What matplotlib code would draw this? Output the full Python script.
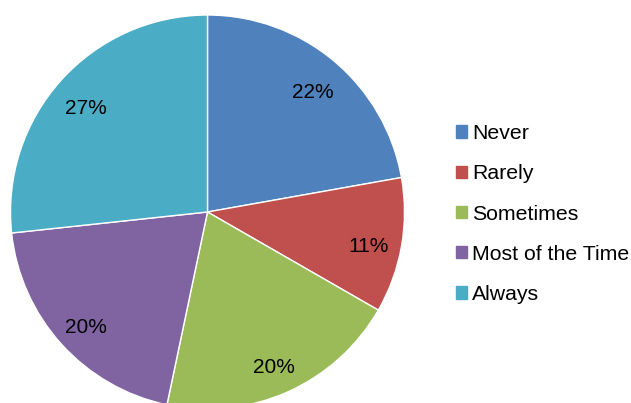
import matplotlib.pyplot as plt
import matplotlib.patches as mpatches
from matplotlib.transforms import offset_copy

# ── Data ──────────────────────────────────────────────────────────────────────
labels = ["Never", "Rarely", "Sometimes", "Most of the Time", "Always"]
values = [22.2, 11.1, 20.0, 20.0, 26.7]
colors = ["#4F81BD", "#C0504D", "#9BBB59", "#8064A2", "#4BACC6"]

plt.rcParams["font.family"] = ["Liberation Sans", "DejaVu Sans"]

fig = plt.figure(figsize=(6.31, 4.03), dpi=100)
# pie centre ~ (207.5, 212) px, radius ~ 197 px
ax = fig.add_axes([10.5 / 631, -6 / 403, 394 / 631, 394 / 403])

wedges, _, autotexts = ax.pie(
    values, colors=colors, startangle=90, counterclock=False,
    autopct="%.0f%%", pctdistance=0.831, radius=1.0,
    wedgeprops=dict(edgecolor="white", linewidth=1.0),
    textprops=dict(fontsize=15, color="black"),
)
ax.set_xlim(-1, 1)
ax.set_ylim(-1, 1)
ax.set_aspect("equal")

# Excel puts the percent labels slightly lower than a pure radial layout
label_tf = offset_copy(ax.transData, fig=fig, x=0, y=-6, units="dots")
for t in autotexts:
    t.set_transform(label_tf)

handles = [mpatches.Patch(color=c, label=l) for c, l in zip(colors, labels)]
fig.legend(handles=handles, loc="center left",
           bbox_to_anchor=(456 / 631, 1 - 214 / 403),
           frameon=False, fontsize=15.3,
           handlelength=0.51, handleheight=0.51, handletextpad=0.25,
           labelspacing=1.0, borderpad=0, borderaxespad=0)

fig.savefig("out.png", dpi=100)
